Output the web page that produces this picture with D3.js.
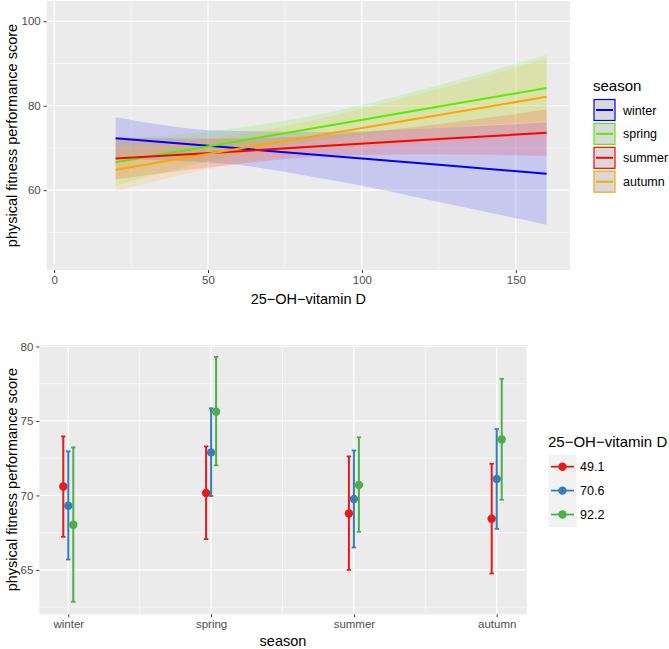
<!DOCTYPE html>
<html><head><meta charset="utf-8">
<script src="https://cdn.jsdelivr.net/npm/d3@7"></script>
<style>body{margin:0;background:#fff;} svg{display:block;font-family:"Liberation Sans",Arial,sans-serif;}</style>
</head><body><svg id="c" width="669" height="649"></svg>
<script>
// ---------- Top panel data ----------
const seasons = ["winter","spring","summer","autumn"];
const seasonColors = ["#0000FF","#55EE00","#FF0000","#FFA500"];
const vitX = [20, 55, 90, 125, 160];
const fitWinter = [72.3, 70.2, 68.1, 66.0, 63.9];
const lowWinter = [67.3, 66.3, 62.4, 57.2, 51.8];
const highWinter = [77.3, 74.1, 73.8, 74.7, 76.0];
const fitSpring = [66.6, 71.0, 75.4, 79.8, 84.2];
const lowSpring = [61.1, 67.7, 72.3, 74.7, 76.4];
const highSpring = [72.1, 74.3, 78.5, 84.9, 92.0];
const fitSummer = [67.5, 69.0, 70.6, 72.1, 73.6];
const lowSummer = [62.6, 65.8, 68.1, 68.5, 68.1];
const highSummer = [72.4, 72.2, 73.1, 75.7, 79.1];
const fitAutumn = [64.85, 69.2, 73.5, 77.8, 82.1];
const lowAutumn = [59.7, 65.8, 69.5, 71.6, 73.1];
const highAutumn = [70.0, 72.6, 77.5, 84.0, 91.1];
const topXTicks = [0, 50, 100, 150];
const topYTicks = [60, 80, 100];

// ---------- Bottom panel data ----------
const vitLevels = ["49.1","70.6","92.2"];
const vitColors = ["#E41A1C","#377EB8","#4DAF4A"];
const est49 = [70.6, 70.16, 68.79, 68.43];
const lo49 = [67.22, 67.07, 65.0, 64.76];
const hi49 = [73.96, 73.29, 72.62, 72.13];
const est70 = [69.31, 72.89, 69.76, 71.10];
const lo70 = [65.70, 69.96, 66.51, 67.76];
const hi70 = [72.96, 75.85, 73.02, 74.46];
const est92 = [68.03, 75.62, 70.70, 73.76];
const lo92 = [62.86, 72.02, 67.56, 69.71];
const hi92 = [73.23, 79.3, 73.90, 77.83];
const botYTicks = [65, 70, 75, 80];

const svg = d3.select("#c");
const gridCol = "#ffffff", panelCol = "#EBEBEB", tickTxt = "#4D4D4D", tickCol = "#333333";

// ================= TOP PANEL =================
const T = {l:46.7, r:570, t:1, b:270};
const xT = d3.scaleLinear().domain([-2.4, 167.6]).range([T.l, T.r]);
const yT = d3.scaleLinear().domain([41.1, 104.8]).range([T.b, T.t]);
const gT = svg.append("g");
gT.append("rect").attr("x",T.l).attr("y",T.t).attr("width",T.r-T.l).attr("height",T.b-T.t).attr("fill",panelCol);
[25,75,125].forEach(v=>gT.append("line").attr("x1",xT(v)).attr("x2",xT(v)).attr("y1",T.t).attr("y2",T.b).attr("stroke",gridCol).attr("stroke-width",0.6));
[50,70,90].forEach(v=>gT.append("line").attr("y1",yT(v)).attr("y2",yT(v)).attr("x1",T.l).attr("x2",T.r).attr("stroke",gridCol).attr("stroke-width",0.6));
topXTicks.forEach(v=>gT.append("line").attr("x1",xT(v)).attr("x2",xT(v)).attr("y1",T.t).attr("y2",T.b).attr("stroke",gridCol).attr("stroke-width",1.2));
topYTicks.forEach(v=>gT.append("line").attr("y1",yT(v)).attr("y2",yT(v)).attr("x1",T.l).attr("x2",T.r).attr("stroke",gridCol).attr("stroke-width",1.2));

const topSeries = [
  {fit:fitWinter, lo:lowWinter, hi:highWinter},
  {fit:fitSpring, lo:lowSpring, hi:highSpring},
  {fit:fitSummer, lo:lowSummer, hi:highSummer},
  {fit:fitAutumn, lo:lowAutumn, hi:highAutumn}
];
const area = d3.area().x(d=>xT(d.x)).y0(d=>yT(d.lo)).y1(d=>yT(d.hi)).curve(d3.curveMonotoneX);
const line = d3.line().x(d=>xT(d.x)).y(d=>yT(d.y));
topSeries.forEach((s,i)=>{
  const pts = vitX.map((x,j)=>({x, lo:s.lo[j], hi:s.hi[j]}));
  gT.append("path").attr("d",area(pts)).attr("fill",seasonColors[i]).attr("fill-opacity",0.15);
});
topSeries.forEach((s,i)=>{
  const pts = vitX.map((x,j)=>({x, y:s.fit[j]}));
  gT.append("path").attr("d",line(pts)).attr("fill","none").attr("stroke",seasonColors[i]).attr("stroke-width",2);
});
const axXT = gT.append("g").attr("transform",`translate(0,${T.b})`)
  .call(d3.axisBottom(xT).tickValues(topXTicks).tickSize(3).tickPadding(3));
axXT.select(".domain").remove();
axXT.selectAll("line").attr("stroke",tickCol);
axXT.selectAll("text").attr("fill",tickTxt).attr("font-size",11.5).attr("font-family","Liberation Sans, Arial, sans-serif");
const axYT = gT.append("g").attr("transform",`translate(${T.l},0)`)
  .call(d3.axisLeft(yT).tickValues(topYTicks).tickSize(3).tickPadding(3));
axYT.select(".domain").remove();
axYT.selectAll("line").attr("stroke",tickCol);
axYT.selectAll("text").attr("fill",tickTxt).attr("font-size",11.5).attr("font-family","Liberation Sans, Arial, sans-serif");
gT.append("text").attr("x",(T.l+T.r)/2).attr("y",304).attr("text-anchor","middle").attr("font-size",14.5).text("25\u2212OH\u2212vitamin D");
gT.append("text").attr("transform",`translate(17,${(T.t+T.b)/2}) rotate(-90)`).attr("text-anchor","middle").attr("font-size",14.5).text("physical fitness performance score");
gT.append("text").attr("x",593).attr("y",91).attr("font-size",15).text("season");
seasons.forEach((s,i)=>{
  const y0 = 99.5 + i*23.9;
  gT.append("rect").attr("x",594).attr("y",y0).attr("width",21).attr("height",21).attr("fill","#D9D9D9").attr("stroke",seasonColors[i]).attr("stroke-width",1.2);
  gT.append("line").attr("x1",596).attr("x2",613).attr("y1",y0+10.5).attr("y2",y0+10.5).attr("stroke",seasonColors[i]).attr("stroke-width",2);
  gT.append("text").attr("x",623).attr("y",y0+15).attr("font-size",12.5).text(s);
});

// ================= BOTTOM PANEL =================
const B = {l:39.3, r:526.7, t:345, b:614.3};
const xB = d3.scaleLinear().domain([0.797, 4.21]).range([B.l, B.r]);
const yB = d3.scaleLinear().domain([62.02, 80.1]).range([B.b, B.t]);
const gB = svg.append("g");
gB.append("rect").attr("x",B.l).attr("y",B.t).attr("width",B.r-B.l).attr("height",B.b-B.t).attr("fill",panelCol);
[1.5,2.5,3.5].forEach(v=>gB.append("line").attr("x1",xB(v)).attr("x2",xB(v)).attr("y1",B.t).attr("y2",B.b).attr("stroke",gridCol).attr("stroke-width",0.6));
[62.5,67.5,72.5,77.5].forEach(v=>gB.append("line").attr("y1",yB(v)).attr("y2",yB(v)).attr("x1",B.l).attr("x2",B.r).attr("stroke",gridCol).attr("stroke-width",0.6));
seasons.forEach((s,i)=>gB.append("line").attr("x1",xB(i+1)).attr("x2",xB(i+1)).attr("y1",B.t).attr("y2",B.b).attr("stroke",gridCol).attr("stroke-width",1.2));
botYTicks.forEach(v=>gB.append("line").attr("y1",yB(v)).attr("y2",yB(v)).attr("x1",B.l).attr("x2",B.r).attr("stroke",gridCol).attr("stroke-width",1.2));

const botSeries = [
  {est:est49, lo:lo49, hi:hi49},
  {est:est70, lo:lo70, hi:hi70},
  {est:est92, lo:lo92, hi:hi92}
];
const dodge = [-0.035, 0, 0.035];
botSeries.forEach((s,k)=>{
  const g = gB.append("g");
  seasons.forEach((_,i)=>{
    const cx = xB(i+1+dodge[k]);
    const col = vitColors[k];
    g.append("line").attr("x1",cx).attr("x2",cx).attr("y1",yB(s.lo[i])).attr("y2",yB(s.hi[i])).attr("stroke",col).attr("stroke-width",2);
    [s.lo[i], s.hi[i]].forEach(v=>g.append("line").attr("x1",cx-2.2).attr("x2",cx+2.2).attr("y1",yB(v)).attr("y2",yB(v)).attr("stroke",col).attr("stroke-width",1.8));
    g.append("circle").attr("cx",cx).attr("cy",yB(s.est[i])).attr("r",4.2).attr("fill",col);
  });
});
const axXB = gB.append("g").attr("transform",`translate(0,${B.b})`)
  .call(d3.axisBottom(xB).tickValues([1,2,3,4]).tickFormat((d,i)=>seasons[i]).tickSize(3).tickPadding(3));
axXB.select(".domain").remove();
axXB.selectAll("line").attr("stroke",tickCol);
axXB.selectAll("text").attr("fill",tickTxt).attr("font-size",11.5).attr("font-family","Liberation Sans, Arial, sans-serif");
const axYB = gB.append("g").attr("transform",`translate(${B.l},0)`)
  .call(d3.axisLeft(yB).tickValues(botYTicks).tickSize(3).tickPadding(3));
axYB.select(".domain").remove();
axYB.selectAll("line").attr("stroke",tickCol);
axYB.selectAll("text").attr("fill",tickTxt).attr("font-size",11.5).attr("font-family","Liberation Sans, Arial, sans-serif");
gB.append("text").attr("x",(B.l+B.r)/2).attr("y",645.5).attr("text-anchor","middle").attr("font-size",14.5).text("season");
gB.append("text").attr("transform",`translate(17,${(B.t+B.b)/2}) rotate(-90)`).attr("text-anchor","middle").attr("font-size",14.5).text("physical fitness performance score");
gB.append("text").attr("x",548).attr("y",447).attr("font-size",15).text("25\u2212OH\u2212vitamin D");
gB.append("rect").attr("x",548.5).attr("y",455).attr("width",28).attr("height",72).attr("fill","#F2F2F2");
vitLevels.forEach((v,k)=>{
  const cy = 466.7 + k*23.9;
  gB.append("line").attr("x1",551).attr("x2",574).attr("y1",cy).attr("y2",cy).attr("stroke",vitColors[k]).attr("stroke-width",1.8);
  gB.append("circle").attr("cx",562.5).attr("cy",cy).attr("r",4.2).attr("fill",vitColors[k]);
  gB.append("text").attr("x",580).attr("y",cy+4.5).attr("font-size",12.5).text(v);
});
</script></body></html>
